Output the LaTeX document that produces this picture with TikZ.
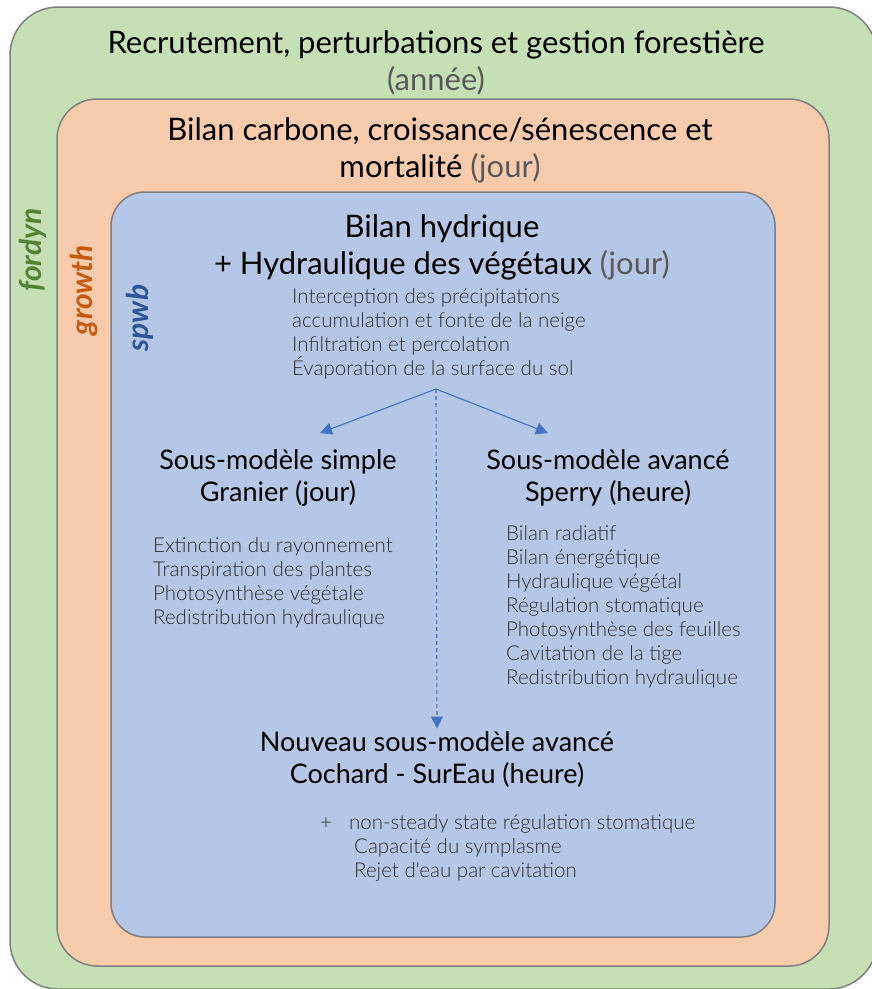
\documentclass[tikz,border=0pt]{standalone}
\usepackage{fontspec}
\setmainfont{Lato}
\newfontfamily\lightfont{Lato Light}
\usetikzlibrary{arrows.meta}
\definecolor{vertfond}{HTML}{C5E0B4}
\definecolor{orangefond}{HTML}{F8CBAD}
\definecolor{bleufond}{HTML}{B4C7E7}
\definecolor{vertnom}{HTML}{548235}
\definecolor{orangenom}{HTML}{C55A11}
\definecolor{bleunom}{HTML}{2F5597}
\definecolor{bord}{HTML}{7F7F7F}
\definecolor{gristexte}{HTML}{595959}
\definecolor{listetexte}{HTML}{2B2B2B}
\definecolor{fleche}{HTML}{4472C4}
\tikzset{
  cadre/.style={draw=bord,line width=1.5pt},
  titre/.style={align=center,font=\fontsize{31}{37}\selectfont},
  soustitre/.style={align=center,font=\fontsize{27}{32}\selectfont},
  liste/.style={align=left,text=listetexte,font=\lightfont\fontsize{20.5}{24}\selectfont,inner sep=0pt,anchor=north west},
  nommodele/.style={rotate=90,font=\bfseries\itshape\fontsize{30}{34}\selectfont},
  lien/.style={draw=fleche,line width=1.1pt,-{Triangle[length=12pt,width=12pt]}}
}
\newcommand{\gris}[1]{\textcolor{gristexte}{#1}}
\begin{document}
\begin{tikzpicture}[x=1pt,y=-1pt]
\useasboundingbox (0,0) rectangle (872,989);
% les trois cadres emboites
\draw[cadre,fill=vertfond,rounded corners=48pt] (10,7) rectangle (877,989);
\draw[cadre,fill=orangefond,rounded corners=40pt] (57,99) rectangle (829,966);
\draw[cadre,fill=bleufond,rounded corners=34pt] (111,192) rectangle (775,937);
% noms des modules
\node[nommodele,text=vertnom] (fordyn) at (33,250) {fordyn};
\node[nommodele,text=orangenom] (growth) at (84,290) {growth};
\node[nommodele,text=bleunom] (spwb) at (140,318) {spwb};
% titres
\node[titre] (recrut) at (436,63) {Recrutement, perturbations et gestion forestière\\\gris{(année)}};
\node[titre] (carbone) at (440,150) {Bilan carbone, croissance/sénescence et\\mortalité \gris{(jour)}};
\node[titre] (hydrique) at (442,247) {Bilan hydrique\\+ Hydraulique des végétaux \gris{(jour)}};
\node[liste] (sol) at (292,288) {Interception des précipitations\\accumulation et fonte de la neige\\Infiltration et percolation\\Évaporation de la surface du sol};
% sous-modeles
\coordinate (depart) at (436,389);
\node[soustitre] (simple) at (278,478) {Sous-modèle simple\\Granier (jour)};
\node[soustitre] (avance) at (608,478) {Sous-modèle avancé\\Sperry (heure)};
\node[soustitre] (nouveau) at (437,760) {Nouveau sous-modèle avancé\\Cochard - SurEau (heure)};
\node[liste] (granier) at (153,537) {Extinction du rayonnement\\Transpiration des plantes\\Photosynthèse végétale\\Redistribution hydraulique};
\node[liste] (sperry) at (506,525) {Bilan radiatif\\Bilan énergétique\\Hydraulique végétal\\Régulation stomatique\\Photosynthèse des feuilles\\Cavitation de la tige\\Redistribution hydraulique};
\node[liste] (sureau) at (320,814) {+\hspace{17pt}non-steady state régulation stomatique\\\hspace{34pt}Capacité du symplasme\\\hspace{34pt}Rejet d'eau par cavitation};
% fleches
\draw[lien] (depart) -- (320,433);
\draw[lien] (depart) -- (548,433);
\draw[lien,dash pattern=on 4pt off 3pt] (depart) -- (nouveau.north);
\end{tikzpicture}
\end{document}
